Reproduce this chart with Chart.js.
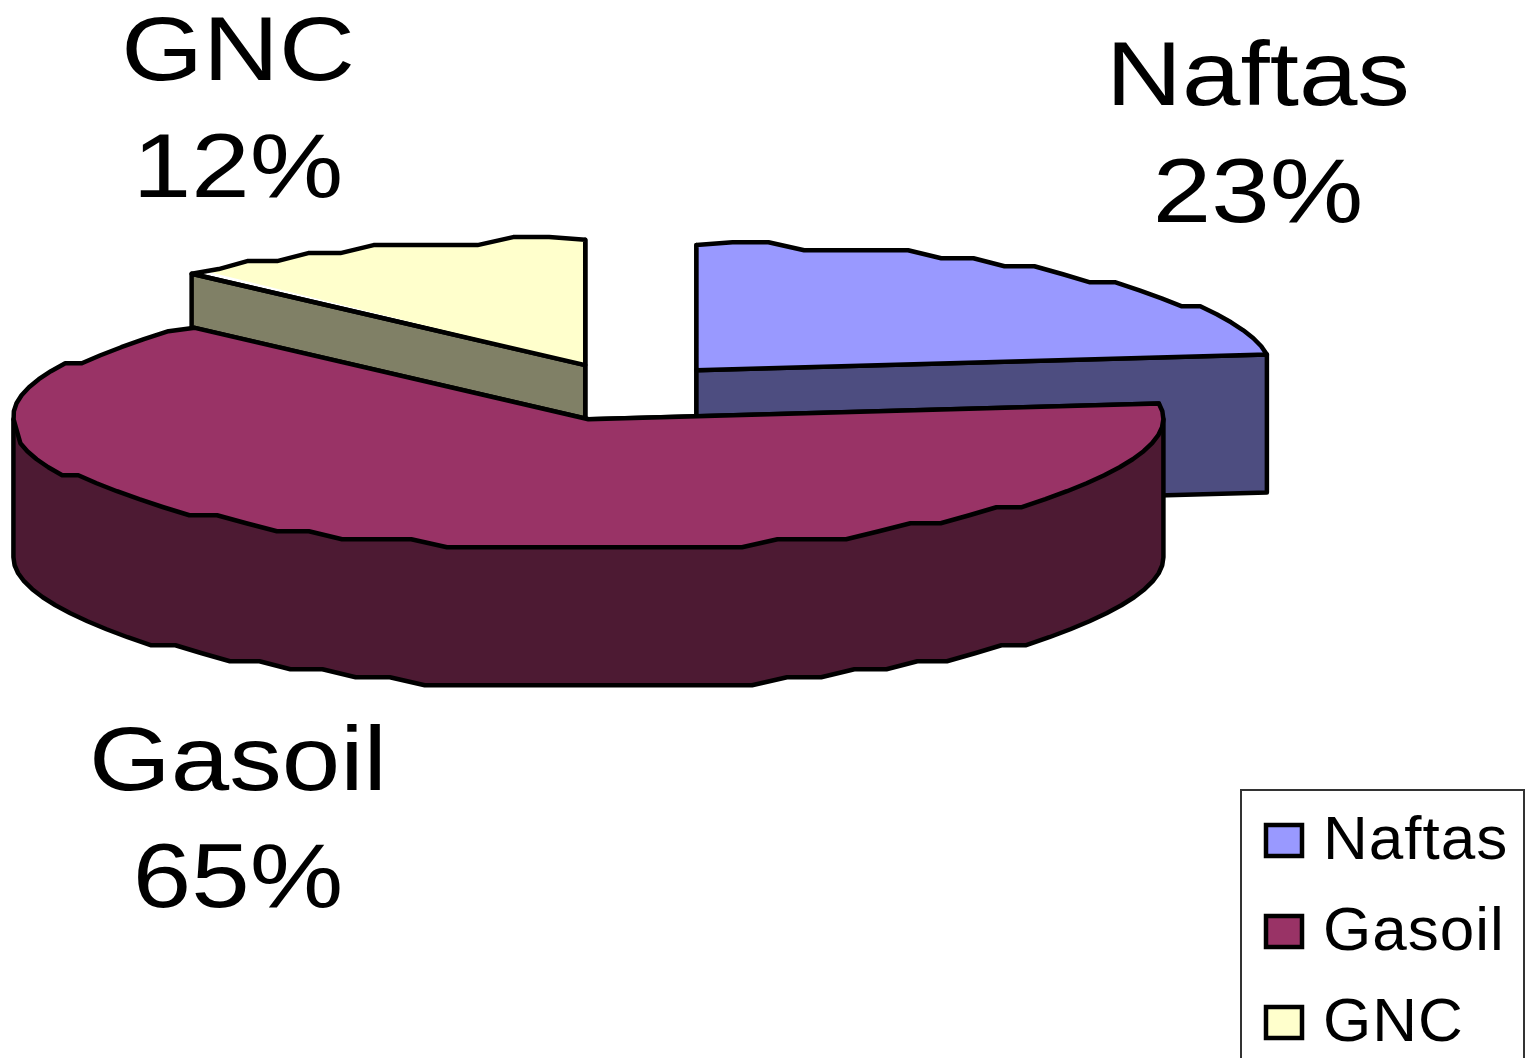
<!DOCTYPE html>
<html>
<head>
<meta charset="utf-8">
<title>Naftas, Gasoil, GNC</title>
<script src="https://cdn.jsdelivr.net/npm/chart.js@4/dist/chart.umd.min.js"></script>
<style>
    html, body { margin: 0; padding: 0; background: #fff; overflow: hidden; }
    canvas { display: block; }
</style>
</head>
<body>
<canvas id="chartTorta" width="1531" height="1058"></canvas>
<script>
const categorias = ['Naftas', 'Gasoil', 'GNC'];
const porcentajes = [23, 65, 12];
const coloresCara = ['#9999ff', '#993366', '#ffffcc'];
const coloresLado = ['#4d4d80', '#4d1a33', '#808066'];

// Perspectiva de la torta: la mitad de atrás se ve algo más chata que la de adelante
const centro = { x: 625, y: 392 };
const inclinacionAtras = 0.218;
const inclinacionFrente = 0.226;
const espesor = 138;
const separacion = 108;
const inclinacionSeparacion = 0.268;
const radio = 575;
const grosorBorde = 4.5;

// El contorno va escalonado: tramos cortos con la altura redondeada
const pasoAngulo = 0.065;
const rejillaY = 8;

// Rótulos grandes: centro horizontal y línea base de cada porción
const posRotulos = [
    { x: 1258, y: 105 },
    { x: 238, y: 790 },
    { x: 238, y: 80 }
];
const fuenteRotulo = 91;
const estiramientoRotulo = 1.155;
const pasoRotulo = 117;

const cajaLeyenda = { left: 1241, top: 790, right: 1524, bottom: 1070 };
const muestraLeyenda = { x: 1266, y: 825, ancho: 36, alto: 31, paso: 91 };

function centroPorcion(arc) {
    const medio = (arc.startAngle + arc.endAngle) / 2;
    return {
        x: centro.x + Math.cos(medio) * separacion,
        y: centro.y + Math.sin(medio) * separacion * inclinacionSeparacion
    };
}

function alturaBorde(a, r) {
    const s = Math.sin(a);
    return s * r * (s < 0 ? inclinacionAtras : inclinacionFrente);
}

// Puntos del borde de a0 a a1; los extremos quedan exactos para cerrar con las caras radiales
function puntosBorde(c, r, a0, a1, dy) {
    const n = Math.max(1, Math.ceil(Math.abs(a1 - a0) / pasoAngulo));
    const pts = [];
    for (let k = 0; k <= n; k++) {
        const a = a0 + (a1 - a0) * k / n;
        const h = alturaBorde(a, r);
        pts.push({
            x: c.x + Math.cos(a) * r,
            y: c.y + dy + ((k === 0 || k === n) ? h : Math.round(h / rejillaY) * rejillaY)
        });
    }
    return pts;
}

function trazarCara(ctx, c, arc) {
    ctx.beginPath();
    ctx.moveTo(c.x, c.y);
    puntosBorde(c, arc.outerRadius, arc.startAngle, arc.endAngle, 0).forEach(p => ctx.lineTo(p.x, p.y));
    ctx.closePath();
}

function pintar(ctx, color) {
    ctx.fillStyle = color;
    ctx.fill();
    ctx.stroke();
}

function caraRadial(ctx, c, arc, angulo, color) {
    const px = c.x + Math.cos(angulo) * arc.outerRadius;
    const py = c.y + alturaBorde(angulo, arc.outerRadius);
    ctx.beginPath();
    ctx.moveTo(c.x, c.y);
    ctx.lineTo(px, py);
    ctx.lineTo(px, py + espesor);
    ctx.lineTo(c.x, c.y + espesor);
    ctx.closePath();
    pintar(ctx, color);
}

function paredExterior(ctx, c, arc, color) {
    // solo la parte del borde que mira al frente (entre 0 y PI);
    // el lado de arriba del polígono queda tapado por la cara superior
    const a0 = Math.max(arc.startAngle, 0);
    const a1 = Math.min(arc.endAngle, Math.PI);
    if (a1 <= a0) return;
    const r = arc.outerRadius;
    ctx.beginPath();
    ctx.moveTo(c.x + Math.cos(a0) * r, c.y + alturaBorde(a0, r));
    ctx.lineTo(c.x + Math.cos(a1) * r, c.y + alturaBorde(a1, r));
    puntosBorde(c, r, a1, a0, espesor).forEach(p => ctx.lineTo(p.x, p.y));
    ctx.closePath();
    pintar(ctx, color);
}

function dibujarPorcion(ctx, arc, i) {
    const c = centroPorcion(arc);
    ctx.strokeStyle = '#000';
    ctx.lineWidth = grosorBorde;
    ctx.lineJoin = 'round';

    caraRadial(ctx, c, arc, arc.startAngle, coloresLado[i]);
    caraRadial(ctx, c, arc, arc.endAngle, coloresLado[i]);
    paredExterior(ctx, c, arc, coloresLado[i]);

    // la cara superior la pinta el elemento de Chart.js, aplastado y recortado al contorno
    ctx.save();
    trazarCara(ctx, c, arc);
    ctx.clip();
    ctx.translate(c.x, c.y);
    ctx.scale(1.01, inclinacionFrente * 1.04);
    ctx.translate(-arc.x, -arc.y);
    arc.draw(ctx);
    ctx.restore();

    trazarCara(ctx, c, arc);
    ctx.stroke();
}

const torta3d = {
    id: 'torta3d',
    afterLayout(chart) {
        // la leyenda va en la esquina inferior derecha y se corta con el borde
        const ley = chart.legend;
        ley.left = 1267 - ley.options.labels.padding;
        ley.right = cajaLeyenda.right;
        ley.top = 782;
        ley.bottom = 1200;
    },
    beforeDraw(chart) {
        chart.ctx.letterSpacing = '1px';
    },
    beforeDatasetDraw(chart, args) {
        const ctx = chart.ctx;
        const arcos = chart.getDatasetMeta(args.index).data;
        // de atrás hacia adelante: el gasoil tapa a las otras dos
        ctx.save();
        [0, 2, 1].forEach(i => dibujarPorcion(ctx, arcos[i], i));
        ctx.restore();
        return false;
    },
    afterDraw(chart) {
        const ctx = chart.ctx;
        ctx.letterSpacing = '0px';
        ctx.save();
        ctx.strokeStyle = '#333';
        ctx.lineWidth = 2;
        ctx.strokeRect(cajaLeyenda.left, cajaLeyenda.top,
            cajaLeyenda.right - cajaLeyenda.left, cajaLeyenda.bottom - cajaLeyenda.top);

        // muestras de la leyenda, más anchas que lo que deja el hueco del texto
        ctx.strokeStyle = '#000';
        ctx.lineWidth = grosorBorde;
        categorias.forEach((nombre, i) => {
            const m = muestraLeyenda;
            ctx.fillStyle = coloresCara[i];
            ctx.fillRect(m.x, m.y + m.paso * i, m.ancho, m.alto);
            ctx.strokeRect(m.x, m.y + m.paso * i, m.ancho, m.alto);
        });

        ctx.fillStyle = '#000';
        ctx.textAlign = 'center';
        ctx.textBaseline = 'alphabetic';
        ctx.font = fuenteRotulo + 'px "Liberation Sans", Arial, sans-serif';
        categorias.forEach((nombre, i) => {
            const p = posRotulos[i];
            ctx.save();
            ctx.translate(p.x, p.y);
            ctx.scale(estiramientoRotulo, 1);
            ctx.fillText(nombre, 0, 0);
            ctx.fillText(porcentajes[i] + '%', 0, pasoRotulo);
            ctx.restore();
        });
        ctx.restore();
    }
};

new Chart(document.getElementById('chartTorta'), {
    type: 'pie',
    data: {
        labels: categorias,
        datasets: [{
            data: porcentajes,
            backgroundColor: coloresCara,
            borderWidth: 0,
            radius: radio
        }]
    },
    options: {
        responsive: false,
        animation: false,
        rotation: 0,
        plugins: {
            tooltip: { enabled: false },
            legend: {
                position: 'right',
                align: 'start',
                labels: {
                    color: '#000',
                    boxWidth: 25,
                    boxHeight: 24,
                    padding: 29,
                    font: { family: '"Liberation Sans", Arial, sans-serif', size: 62 },
                    generateLabels: () => categorias.map((text, i) => ({
                        text,
                        index: i,
                        fillStyle: coloresCara[i],
                        lineWidth: 0,
                        hidden: false
                    }))
                }
            }
        }
    },
    plugins: [torta3d]
});
</script>
</body>
</html>
